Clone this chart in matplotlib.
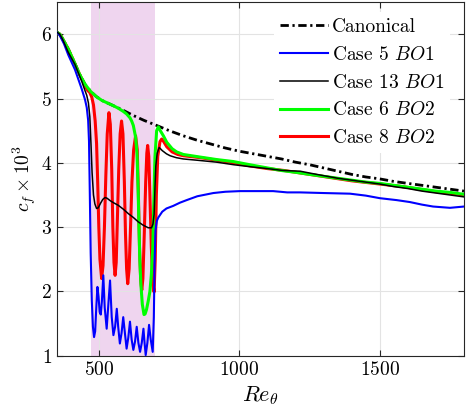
import matplotlib
matplotlib.use('Agg')
import matplotlib.pyplot as plt

# ----- data (Re_theta, cf*1e3) -----
re_canon = [350, 360, 370, 390, 410, 430, 450, 470, 490, 510, 550, 580, 620, 660, 700,
            750, 800, 850, 900, 950, 1000, 1050, 1100, 1150, 1200, 1250, 1300, 1350,
            1400, 1450, 1500, 1550, 1600, 1650, 1700, 1750, 1800]
cf_canon = [6.03, 6.0, 5.93, 5.77, 5.58, 5.38, 5.22, 5.11, 5.03, 4.97, 4.89, 4.83, 4.74,
            4.66, 4.59, 4.50, 4.42, 4.35, 4.29, 4.23, 4.18, 4.14, 4.10, 4.06, 4.01, 3.97,
            3.92, 3.87, 3.82, 3.78, 3.75, 3.71, 3.68, 3.65, 3.62, 3.59, 3.56]

# Case 5 BO1
re_c5 = [350, 360, 375, 390, 414, 438, 450, 456, 461, 464, 467, 470, 474, 478, 482, 486,
         490, 494, 498, 502, 506, 510, 515, 520, 527, 533, 539, 545, 551, 557, 563, 568,
         574, 580, 586, 592, 598, 604, 610, 616, 622, 628, 634, 640, 646, 652, 658, 662,
         666, 672, 678, 684, 691, 695, 698, 701, 706, 711, 725, 740, 764, 788, 812, 850,
         907, 950, 1002, 1050, 1120, 1170, 1216, 1300, 1394, 1450, 1500, 1560, 1607,
         1650, 1690, 1750, 1800]
cf_c5 = [6.03, 5.98, 5.85, 5.68, 5.45, 5.15, 4.98, 4.86, 4.66, 4.34, 3.5, 2.6, 1.86, 1.45,
         1.29, 1.38, 1.75, 2.07, 1.92, 1.68, 1.64, 1.85, 2.25, 1.75, 1.42, 1.8, 2.17, 1.6,
         1.32, 1.45, 1.73, 1.45, 1.19, 1.35, 1.60, 1.35, 1.11, 1.28, 1.53, 1.25, 1.09,
         1.22, 1.45, 1.2, 1.06, 1.2, 1.42, 1.2, 1.01, 1.2, 1.48, 1.25, 1.06, 1.6, 2.5,
         2.95, 3.1, 3.15, 3.24, 3.29, 3.33, 3.38, 3.42, 3.48, 3.53, 3.55, 3.56, 3.56,
         3.56, 3.54, 3.54, 3.53, 3.52, 3.49, 3.45, 3.42, 3.39, 3.35, 3.32, 3.30, 3.32]

# Case 13 BO1
re_c13 = [350, 360, 370, 390, 414, 438, 450, 456, 462, 467, 471, 475, 480, 485, 491, 497,
          505, 513, 521, 528, 540, 551, 568, 586, 604, 622, 640, 657, 675, 687, 692, 696,
          699, 702, 707, 714, 725, 740, 753, 775, 800, 850, 919, 980, 1037, 1100, 1156,
          1216, 1251, 1300, 1350, 1400, 1450, 1500, 1550, 1600, 1650, 1700, 1750, 1800]
cf_c13 = [6.03, 6.0, 5.92, 5.72, 5.53, 5.27, 5.12, 5.05, 4.93, 4.72, 4.3, 3.85, 3.5, 3.36,
          3.29, 3.30, 3.37, 3.43, 3.46, 3.45, 3.41, 3.38, 3.34, 3.28, 3.21, 3.15, 3.08,
          3.03, 2.99, 2.99, 3.05, 3.2, 3.6, 3.95, 4.15, 4.24, 4.19, 4.14, 4.11, 4.08,
          4.06, 4.04, 4.01, 3.97, 3.94, 3.91, 3.88, 3.87, 3.84, 3.80, 3.76, 3.73, 3.70,
          3.67, 3.63, 3.60, 3.56, 3.53, 3.50, 3.47]

# Case 6 BO2
re_c6 = [350, 360, 370, 390, 410, 430, 450, 470, 490, 510, 530, 550, 568, 586, 598, 610,
         616, 622, 630, 635, 639, 642, 645, 649, 654, 660, 664, 669, 675, 681, 686, 691,
         695, 699, 705, 711, 718, 729, 741, 760, 776, 800, 859, 920, 978, 1037, 1100,
         1150, 1204, 1250, 1300, 1350, 1400, 1450, 1500, 1550, 1600, 1650, 1700, 1750,
         1800]
cf_c6 = [6.03, 6.0, 5.93, 5.77, 5.58, 5.38, 5.22, 5.11, 5.03, 4.97, 4.93, 4.89, 4.85, 4.80,
         4.76, 4.70, 4.65, 4.58, 4.40, 4.15, 3.6, 3.0, 2.5, 2.1, 1.8, 1.64, 1.65, 1.72,
         1.85, 2.0, 2.25, 2.64, 3.4, 4.09, 4.5, 4.56, 4.5, 4.42, 4.32, 4.22, 4.17, 4.13,
         4.09, 4.05, 4.02, 3.97, 3.92, 3.88, 3.85, 3.82, 3.79, 3.76, 3.73, 3.70, 3.68,
         3.65, 3.62, 3.59, 3.56, 3.54, 3.51]

# Case 8 BO2
re_c8 = [350, 360, 370, 390, 410, 430, 450, 460, 466, 474, 480, 486, 491, 495, 499, 503,
         509, 514, 519, 524, 529, 535, 540, 545, 549, 553, 557, 561, 565, 570, 575, 580,
         585, 590, 594, 598, 602, 607, 612, 617, 623, 630, 636, 640, 644, 648, 652, 656,
         661, 666, 670, 673, 677, 681, 686, 691, 696, 700, 704, 709, 717, 723, 730, 741,
         760, 780, 800, 860, 920, 980, 1040, 1100, 1160, 1220, 1280, 1340, 1400, 1460,
         1520, 1580, 1640, 1700, 1760, 1800]
cf_c8 = [6.03, 6.0, 5.93, 5.77, 5.58, 5.38, 5.2, 5.12, 5.1, 5.02, 4.9, 4.65, 4.3, 3.7, 3.0,
         2.5, 2.2, 2.4, 3.0, 3.8, 4.45, 4.78, 4.6, 3.9, 3.0, 2.45, 2.25, 2.45, 3.1, 3.9,
         4.45, 4.65, 4.45, 3.7, 2.9, 2.35, 2.12, 2.35, 3.0, 3.7, 4.2, 4.42, 4.2, 3.5, 2.7,
         2.2, 2.02, 2.2, 2.9, 3.7, 4.15, 4.27, 4.1, 3.5, 2.7, 2.15, 1.99, 2.5, 3.5, 4.1,
         4.33, 4.37, 4.33, 4.25, 4.17, 4.13, 4.11, 4.08, 4.04, 4.0, 3.95, 3.91, 3.88,
         3.84, 3.80, 3.76, 3.72, 3.69, 3.66, 3.63, 3.59, 3.55, 3.52, 3.50]

# blowing region
region = [470, 700]

labels = ['Canonical', r'Case 5 $BO1$', r'Case 13 $BO1$', r'Case 6 $BO2$', r'Case 8 $BO2$']

plt.rcParams['font.family'] = ['cmr10', 'DejaVu Serif']
plt.rcParams['mathtext.fontset'] = 'cm'
plt.rcParams['axes.formatter.use_mathtext'] = True
plt.rcParams['axes.unicode_minus'] = False

fig = plt.figure(figsize=(4.66, 4.12), dpi=100)
ax = fig.add_axes([0.1223, 0.1366, 0.8734, 0.8584])

ax.axvspan(region[0], region[1], color='#EFD5EF', lw=0, zorder=0)

l0, = ax.plot(re_canon, cf_canon, color='k', lw=2.0, dashes=(3, 1.3, 0.8, 1.3), zorder=2)
l4, = ax.plot(re_c8, cf_c8, color=(1, 0, 0), lw=2.2, zorder=3)
l3, = ax.plot(re_c6, cf_c6, color=(0, 1, 0), lw=2.2, zorder=4)
l1, = ax.plot(re_c5, cf_c5, color=(0, 0, 1), lw=1.5, zorder=5)
l2, = ax.plot(re_c13, cf_c13, color='k', lw=1.1, zorder=6)

ax.set_xlim(350, 1800)
ax.set_ylim(1, 6.5)
ax.set_xticks([500, 1000, 1500])
ax.set_yticks([1, 2, 3, 4, 5, 6])
ax.grid(True, color='#E3E3E3', lw=0.8)
ax.set_axisbelow(True)
ax.tick_params(direction='in', top=True, right=True, labelsize=14, length=4,
               color='#262626', width=0.8)
for s in ax.spines.values():
    s.set_color('#262626')
    s.set_linewidth(0.8)

ax.set_xlabel(r'$Re_\theta$', fontsize=16)
ax.set_ylabel(r'$c_f \times 10^3$', fontsize=14, labelpad=2)

leg = ax.legend([l0, l1, l2, l3, l4], labels, loc='upper right',
                bbox_to_anchor=(0.99, 0.998), fontsize=14, frameon=True,
                facecolor='white', edgecolor='none', framealpha=1, fancybox=False,
                handlelength=2.5, handletextpad=0.2, labelspacing=0.5, borderpad=0.3)

fig.savefig('out.png', dpi=100)
